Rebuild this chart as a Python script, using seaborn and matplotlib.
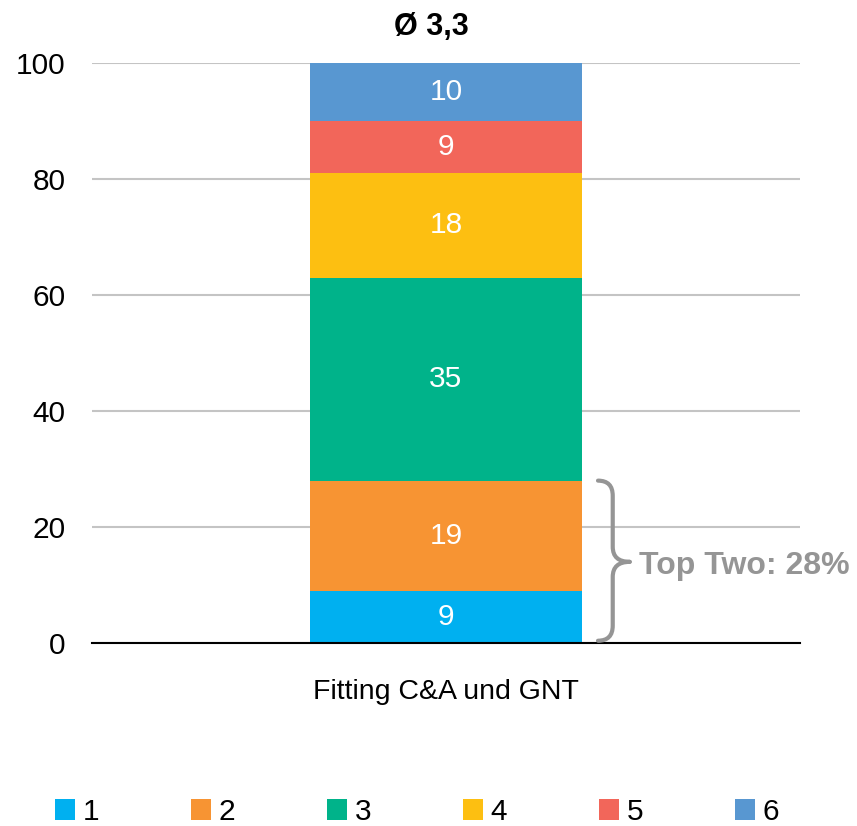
import numpy as np
import pandas as pd
import seaborn as sns
import matplotlib.pyplot as plt
from matplotlib.patches import Patch, PathPatch
from matplotlib.path import Path

category = "Fitting C&A und GNT"
levels = ["1", "2", "3", "4", "5", "6"]
shares = [9, 19, 35, 18, 9, 10]
colors = ["#00B0F0", "#F79433", "#00B38A", "#FDBF11", "#F2665A", "#5897D1"]
avg_label = "Ø 3,3"
top_two_label = "Top Two: 28%"

sns.set_style("white")
plt.rcParams["font.family"] = ["Liberation Sans", "DejaVu Sans"]
plt.rcParams["text.color"] = "black"
plt.rcParams["xtick.color"] = "black"
plt.rcParams["ytick.color"] = "black"

fig = plt.figure(figsize=(8.57, 8.26), dpi=100)
ax = fig.add_axes([0.1073, 0.2215, 0.8262, 0.7022])

cum = np.cumsum(shares)
# stacked bar: draw cumulative totals from the top down
for i in reversed(range(len(levels))):
    df = pd.DataFrame({"cat": [category], "val": [cum[i]]})
    sns.barplot(data=df, x="cat", y="val", color=colors[i], saturation=1,
                width=0.384, linewidth=0, ax=ax, zorder=3)

for i, v in enumerate(shares):
    ax.text(0, cum[i] - v / 2, str(v), ha="center", va="center",
            color="white", fontsize=21.5, zorder=4)

ax.set_xlim(-0.5, 0.5)
ax.set_ylim(0, 100)
ax.set_yticks(range(0, 101, 20))
ax.yaxis.grid(True, color="#C4C4C4", linewidth=1.5, zorder=0)
ax.xaxis.grid(False)
for s in ["left", "right", "top"]:
    ax.spines[s].set_visible(False)
ax.spines["bottom"].set_color("black")
ax.spines["bottom"].set_linewidth(1.5)
ax.spines["bottom"].set_zorder(5)
ax.tick_params(axis="y", length=0, labelsize=21.5, pad=19, labelcolor="black")
ax.tick_params(axis="x", length=0, labelsize=20.5, pad=26, labelcolor="black")
ax.set_xlabel("")
ax.set_ylabel("")
ax.set_title(avg_label, fontsize=22, fontweight="bold", pad=20, color="black", x=0.479)

# brace for top two
gray = "#959595"
x0, x1, xt = 0.2147, 0.2355, 0.2595
top, bot = cum[1], 0.4
mid = top / 2
upper = Path([(x0, top), (x1, top), (x1, top - 2.6), (x1, mid + 2.6),
              (x1, mid), (xt, mid)],
             [Path.MOVETO, Path.CURVE3, Path.CURVE3, Path.LINETO,
              Path.CURVE3, Path.CURVE3])
lower = Path([(xt, mid), (x1, mid), (x1, mid - 2.6), (x1, bot + 2.6),
              (x1, bot), (x0, bot)],
             [Path.MOVETO, Path.CURVE3, Path.CURVE3, Path.LINETO,
              Path.CURVE3, Path.CURVE3])
for p in (upper, lower):
    ax.add_patch(PathPatch(p, facecolor="none", edgecolor=gray, linewidth=3,
                           capstyle="round", clip_on=False, zorder=6))
ax.text(0.272, mid - 0.8, top_two_label, ha="left", va="center", color=gray,
        fontsize=23, fontweight="bold", clip_on=False)

handles = [Patch(facecolor=c, edgecolor="none", label=l) for c, l in zip(colors, levels)]
fig.legend(handles=handles, loc="center left", bbox_to_anchor=(55 / 857, 14 / 826),
           ncol=6, frameon=False, fontsize=21.5, handlelength=0.67, handleheight=0.67,
           handletextpad=0.25, columnspacing=3.08, borderpad=0, borderaxespad=0,
           labelcolor="black")

fig.savefig("out.png", dpi=100)
